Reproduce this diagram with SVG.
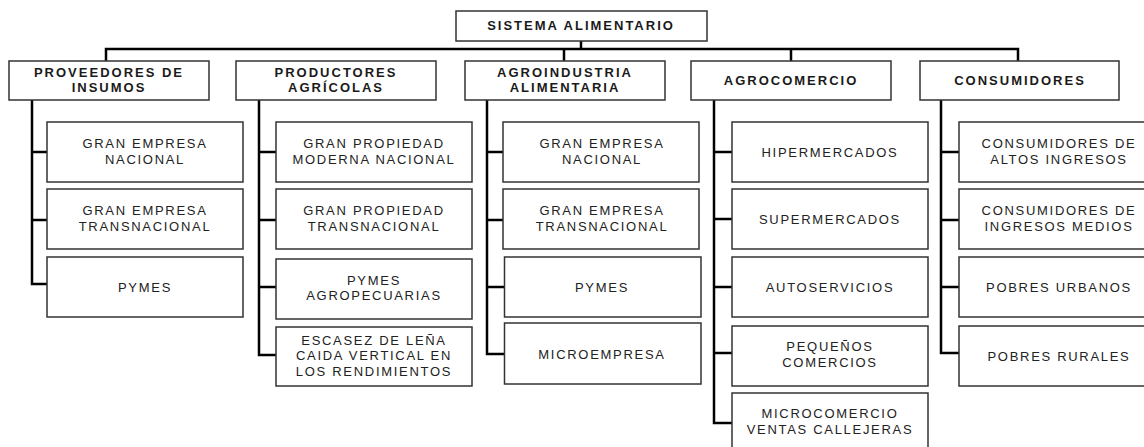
<svg xmlns="http://www.w3.org/2000/svg" width="1144" height="447" viewBox="0 0 1144 447">
<style>
.bx{fill:#fff;stroke:#333;stroke-width:1.5}
.hd{font-family:"Liberation Sans",Arial,sans-serif;font-size:13px;font-weight:bold;letter-spacing:2px;fill:#1a1a1a;text-anchor:middle}
.tx{font-family:"Liberation Sans",Arial,sans-serif;font-size:13px;letter-spacing:1.7px;fill:#222;text-anchor:middle}
.cn{fill:none;stroke:#000;stroke-width:2.5}
</style>
<rect width="1144" height="447" fill="#fff"/>
<g id="connectors" class="cn">
<path d="M581,41V49M106,61V49H1018V61M564,49V61M791,49V61"/>
<path d="M32,100V284H47M32,152H47M32,220H47"/>
<path d="M259,100V355H276M259,152H276M259,220H276M259,287H276"/>
<path d="M487,100V354H504M487,152H503M487,220H503M487,287H504"/>
<path d="M714,100V423H732M714,152H732M714,219H732M714,287H732M714,353H732"/>
<path d="M941,100V353H959M941,152H959M941,220H959M941,287H959"/>
</g>
<g id="root"><rect class="bx" x="456" y="11" width="251" height="30"/><text class="hd" x="581" y="30">SISTEMA ALIMENTARIO</text></g>
<g id="proveedores"><rect class="bx" x="9" y="61" width="200" height="39"/><text class="hd" x="109" y="76.5">PROVEEDORES DE</text><text class="hd" x="109" y="92">INSUMOS</text></g>
<g id="productores"><rect class="bx" x="236" y="61" width="200" height="39"/><text class="hd" x="336" y="76.5">PRODUCTORES</text><text class="hd" x="336" y="92">AGRÍCOLAS</text></g>
<g id="agroindustria"><rect class="bx" x="465" y="61" width="200" height="39"/><text class="hd" x="565" y="76.5">AGROINDUSTRIA</text><text class="hd" x="565" y="92">ALIMENTARIA</text></g>
<g id="agrocomercio"><rect class="bx" x="691" y="61" width="200" height="39"/><text class="hd" x="791" y="84.5">AGROCOMERCIO</text></g>
<g id="consumidores"><rect class="bx" x="920" y="61" width="199" height="39"/><text class="hd" x="1020" y="84.5">CONSUMIDORES</text></g>

<g id="c1-1"><rect class="bx" x="47" y="122" width="196" height="60"/><text class="tx" x="145" y="148">GRAN EMPRESA</text><text class="tx" x="145" y="163.5">NACIONAL</text></g>
<g id="c1-2"><rect class="bx" x="47" y="189" width="196" height="60"/><text class="tx" x="145" y="215">GRAN EMPRESA</text><text class="tx" x="145" y="230.5">TRANSNACIONAL</text></g>
<g id="c1-3"><rect class="bx" x="47" y="257" width="196" height="60"/><text class="tx" x="145" y="291.5">PYMES</text></g>

<g id="c2-1"><rect class="bx" x="276" y="122" width="196" height="60"/><text class="tx" x="374" y="148">GRAN PROPIEDAD</text><text class="tx" x="374" y="163.5">MODERNA NACIONAL</text></g>
<g id="c2-2"><rect class="bx" x="276" y="189" width="196" height="60"/><text class="tx" x="374" y="215">GRAN PROPIEDAD</text><text class="tx" x="374" y="230.5">TRANSNACIONAL</text></g>
<g id="c2-3"><rect class="bx" x="276" y="259" width="196" height="60"/><text class="tx" x="374" y="284.5">PYMES</text><text class="tx" x="374" y="300">AGROPECUARIAS</text></g>
<g id="c2-4"><rect class="bx" x="276" y="327" width="196" height="59"/><text class="tx" x="374" y="344.5">ESCASEZ DE LEÑA</text><text class="tx" x="374" y="360">CAIDA VERTICAL EN</text><text class="tx" x="374" y="375.5">LOS RENDIMIENTOS</text></g>

<g id="c3-1"><rect class="bx" x="503" y="122" width="196" height="60"/><text class="tx" x="602" y="148">GRAN EMPRESA</text><text class="tx" x="602" y="163.5">NACIONAL</text></g>
<g id="c3-2"><rect class="bx" x="503" y="189" width="196" height="60"/><text class="tx" x="602" y="215">GRAN EMPRESA</text><text class="tx" x="602" y="230.5">TRANSNACIONAL</text></g>
<g id="c3-3"><rect class="bx" x="504.5" y="257" width="196.5" height="60"/><text class="tx" x="602" y="291.5">PYMES</text></g>
<g id="c3-4"><rect class="bx" x="504.5" y="323" width="196.5" height="61"/><text class="tx" x="602" y="358.5">MICROEMPRESA</text></g>

<g id="c4-1"><rect class="bx" x="732" y="122" width="196" height="60"/><text class="tx" x="830" y="156.5">HIPERMERCADOS</text></g>
<g id="c4-2"><rect class="bx" x="732" y="189" width="196" height="60"/><text class="tx" x="830" y="223.5">SUPERMERCADOS</text></g>
<g id="c4-3"><rect class="bx" x="732" y="257" width="196" height="60"/><text class="tx" x="830" y="291.5">AUTOSERVICIOS</text></g>
<g id="c4-4"><rect class="bx" x="732" y="326" width="196" height="60"/><text class="tx" x="830" y="351">PEQUEÑOS</text><text class="tx" x="830" y="366.5">COMERCIOS</text></g>
<g id="c4-5"><rect class="bx" x="732" y="393" width="196" height="60"/><text class="tx" x="830" y="418">MICROCOMERCIO</text><text class="tx" x="830" y="433.5">VENTAS CALLEJERAS</text></g>

<g id="c5-1"><rect class="bx" x="959" y="122" width="200" height="60"/><text class="tx" x="1059" y="148">CONSUMIDORES DE</text><text class="tx" x="1059" y="163.5">ALTOS INGRESOS</text></g>
<g id="c5-2"><rect class="bx" x="959" y="189" width="200" height="60"/><text class="tx" x="1059" y="215">CONSUMIDORES DE</text><text class="tx" x="1059" y="230.5">INGRESOS MEDIOS</text></g>
<g id="c5-3"><rect class="bx" x="959" y="257" width="200" height="60"/><text class="tx" x="1059" y="291.5">POBRES URBANOS</text></g>
<g id="c5-4"><rect class="bx" x="959" y="326" width="200" height="60"/><text class="tx" x="1059" y="360.5">POBRES RURALES</text></g>
</svg>
